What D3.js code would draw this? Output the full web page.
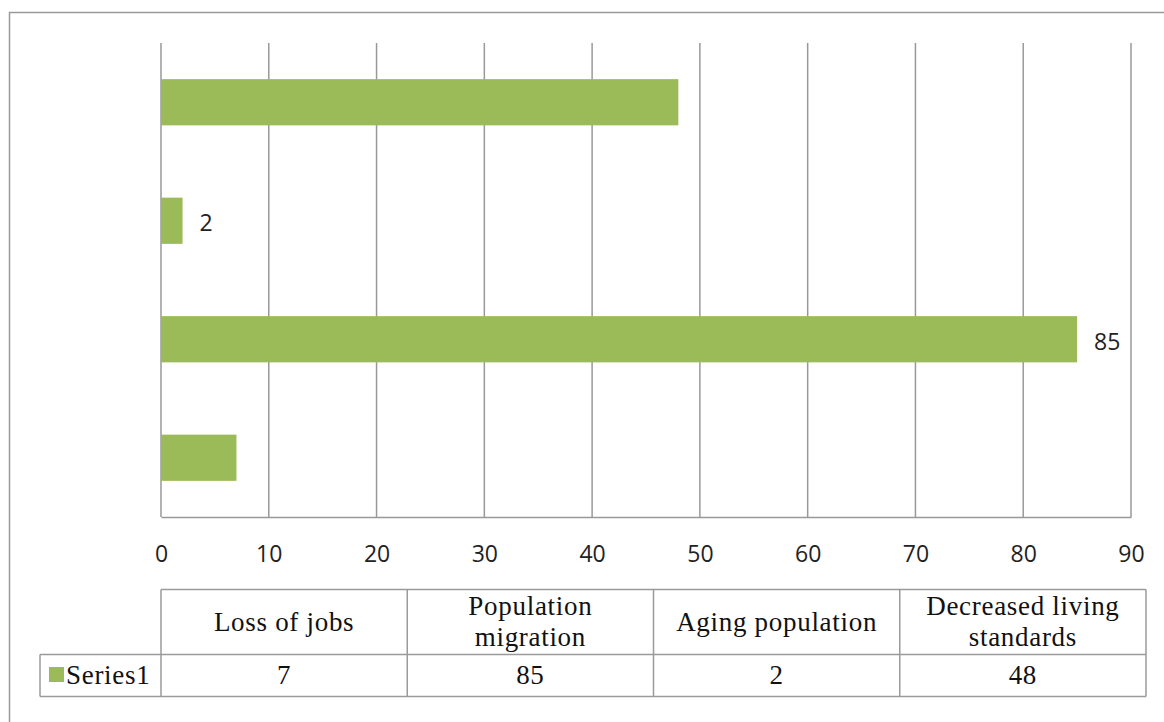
<!DOCTYPE html>
<html>
<head>
<meta charset="utf-8">
<script src="https://cdn.jsdelivr.net/npm/d3@7/dist/d3.min.js"></script>
<style>
  html, body { margin: 0; padding: 0; background: #fff; }
  svg { display: block; }
</style>
</head>
<body>
<svg id="chart" width="1164" height="722"></svg>
<script>
// Survey results: perceived consequences, one series
const categories = ["Loss of jobs", "Population migration", "Aging population", "Decreased living standards"];
const headerLines = [["Loss of jobs"], ["Population", "migration"], ["Aging population"], ["Decreased living", "standards"]];
const values = [7, 85, 2, 48];
const showLabel = [false, true, true, false];
const seriesName = "Series1";
const xTicks = [0, 10, 20, 30, 40, 50, 60, 70, 80, 90];

const barColor = "#9BBB59";
const gridColor = "#999999";
const serif = "'Liberation Serif', 'DejaVu Serif', serif";
const sans = "'Open Sans', 'DejaVu Sans', sans-serif";

const svg = d3.select("#chart");

// outer frame of the chart area
svg.append("rect")
  .attr("x", 9.5).attr("y", 12.5)
  .attr("width", 1170).attr("height", 730)
  .attr("fill", "none").attr("stroke", "#9a9a9a").attr("stroke-width", 1.5);

const plot = { left: 161, right: 1131, top: 43, bottom: 517 };

const x = d3.scaleLinear().domain([0, 90]).range([plot.left, plot.right]);
// first category sits at the bottom of the plot
const y = d3.scaleBand()
  .domain(categories.slice().reverse())
  .range([plot.top, plot.bottom])
  .paddingInner(0.61).paddingOuter(0.305);

// vertical gridlines
svg.append("g")
  .selectAll("line")
  .data(xTicks)
  .join("line")
  .attr("x1", d => x(d)).attr("x2", d => x(d))
  .attr("y1", plot.top).attr("y2", plot.bottom)
  .attr("stroke", gridColor).attr("stroke-width", 1.5);

const rows = categories.map((c, i) => ({ c, v: values[i], lab: showLabel[i] }));

// bars
svg.append("g")
  .selectAll("rect")
  .data(rows)
  .join("rect")
  .attr("x", x(0))
  .attr("y", d => y(d.c))
  .attr("width", d => x(d.v) - x(0))
  .attr("height", y.bandwidth())
  .attr("fill", barColor);

// data labels
svg.append("g")
  .selectAll("text")
  .data(rows.filter(d => d.lab))
  .join("text")
  .attr("x", d => x(d.v) + 17)
  .attr("y", d => y(d.c) + y.bandwidth() / 2 + 2)
  .attr("dy", "0.36em")
  .attr("font-family", sans).attr("font-size", 23).attr("fill", "#222")
  .text(d => d.v);

// bottom axis: baseline and tick labels
const axis = d3.axisBottom(x).tickValues(xTicks).tickSize(0).tickPadding(29);
const gAxis = svg.append("g").attr("transform", `translate(0,${plot.bottom})`).call(axis);
gAxis.select(".domain").attr("stroke", gridColor).attr("stroke-width", 1.5);
gAxis.selectAll("text")
  .attr("font-family", sans).attr("font-size", 23).attr("fill", "#222");

// data table under the axis
const table = { left: 161, right: 1146, top: 589.5, mid: 654.5, bottom: 696.5, legendLeft: 40 };
const col = d3.scaleBand().domain(categories).range([table.left, table.right]);
const tg = svg.append("g").attr("stroke", "#9a9a9a").attr("stroke-width", 1.5).attr("fill", "none");

tg.append("line").attr("x1", table.left).attr("x2", table.right).attr("y1", table.top).attr("y2", table.top);
tg.append("line").attr("x1", table.legendLeft).attr("x2", table.right).attr("y1", table.mid).attr("y2", table.mid);
tg.append("line").attr("x1", table.legendLeft).attr("x2", table.right).attr("y1", table.bottom).attr("y2", table.bottom);
tg.append("line").attr("x1", table.legendLeft).attr("x2", table.legendLeft).attr("y1", table.mid).attr("y2", table.bottom);
tg.selectAll("line.col")
  .data(categories.concat(["end"]))
  .join("line")
  .attr("class", "col")
  .attr("x1", d => d === "end" ? table.right : col(d))
  .attr("x2", d => d === "end" ? table.right : col(d))
  .attr("y1", table.top).attr("y2", table.bottom);

const cellFont = 27;
const cellSpacing = "0.7px";

// header cells
const headerG = svg.append("g")
  .attr("font-family", serif).attr("font-size", cellFont).attr("fill", "#111")
  .attr("letter-spacing", cellSpacing)
  .attr("text-anchor", "middle");
categories.forEach((c, i) => {
  const lines = headerLines[i];
  const cx = col(c) + col.bandwidth() / 2;
  const cy = (table.top + table.mid) / 2;
  const lh = 31;
  lines.forEach((ln, j) => {
    headerG.append("text")
      .attr("x", cx)
      .attr("y", cy + (j - (lines.length - 1) / 2) * lh)
      .attr("dy", "0.33em")
      .text(ln);
  });
});

// value cells
svg.append("g")
  .attr("font-family", serif).attr("font-size", cellFont).attr("fill", "#111")
  .attr("letter-spacing", cellSpacing)
  .attr("text-anchor", "middle")
  .selectAll("text")
  .data(rows)
  .join("text")
  .attr("x", d => col(d.c) + col.bandwidth() / 2)
  .attr("y", (table.mid + table.bottom) / 2)
  .attr("dy", "0.33em")
  .text(d => d.v);

// legend key in the series row
svg.append("rect")
  .attr("x", 49).attr("y", 667).attr("width", 15).attr("height", 15)
  .attr("fill", barColor);
svg.append("text")
  .attr("x", 66).attr("y", (table.mid + table.bottom) / 2)
  .attr("dy", "0.33em")
  .attr("font-family", serif).attr("font-size", cellFont).attr("fill", "#111")
  .attr("letter-spacing", cellSpacing)
  .text(seriesName);
</script>
</body>
</html>
